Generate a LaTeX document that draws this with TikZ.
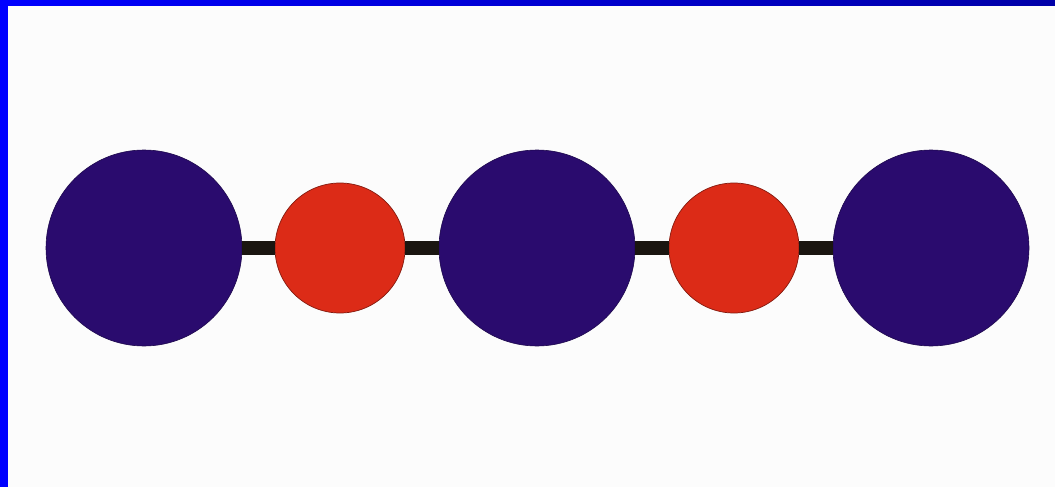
\documentclass[tikz,border=0pt]{standalone}
\definecolor{bigblue}{HTML}{2A0B6E}
\definecolor{atomred}{HTML}{DC2B17}
\definecolor{barblack}{HTML}{1A1510}
\definecolor{frameblue}{HTML}{0000FF}
\definecolor{framedark}{HTML}{0000A8}
\begin{document}
\begin{tikzpicture}[x=1pt,y=-1pt,
  big/.style={circle,fill=bigblue,draw=bigblue!70!black,line width=0.6pt,minimum size=196pt,inner sep=0pt},
  small/.style={circle,fill=atomred,draw=atomred!60!black,line width=0.7pt,minimum size=130pt,inner sep=0pt},
  bond/.style={barblack,line width=14pt}]
\useasboundingbox (0,0) rectangle (1055,487);
\fill[white!99!black] (0,0) rectangle (1055,487);
\shade[left color=frameblue,right color=framedark] (0,0) rectangle (1055,6);
\fill[frameblue] (0,0) rectangle (8,487);
\node[big] (b1) at (144,248) {};
\node[small] (r1) at (340,248) {};
\node[big] (b2) at (537,248) {};
\node[small] (r2) at (734,248) {};
\node[big] (b3) at (931,248) {};
\begin{scope}[on background layer/.try]
\end{scope}
\draw[bond] (b1.east) -- (r1.west);
\draw[bond] (r1.east) -- (b2.west);
\draw[bond] (b2.east) -- (r2.west);
\draw[bond] (r2.east) -- (b3.west);
\end{tikzpicture}
\end{document}
